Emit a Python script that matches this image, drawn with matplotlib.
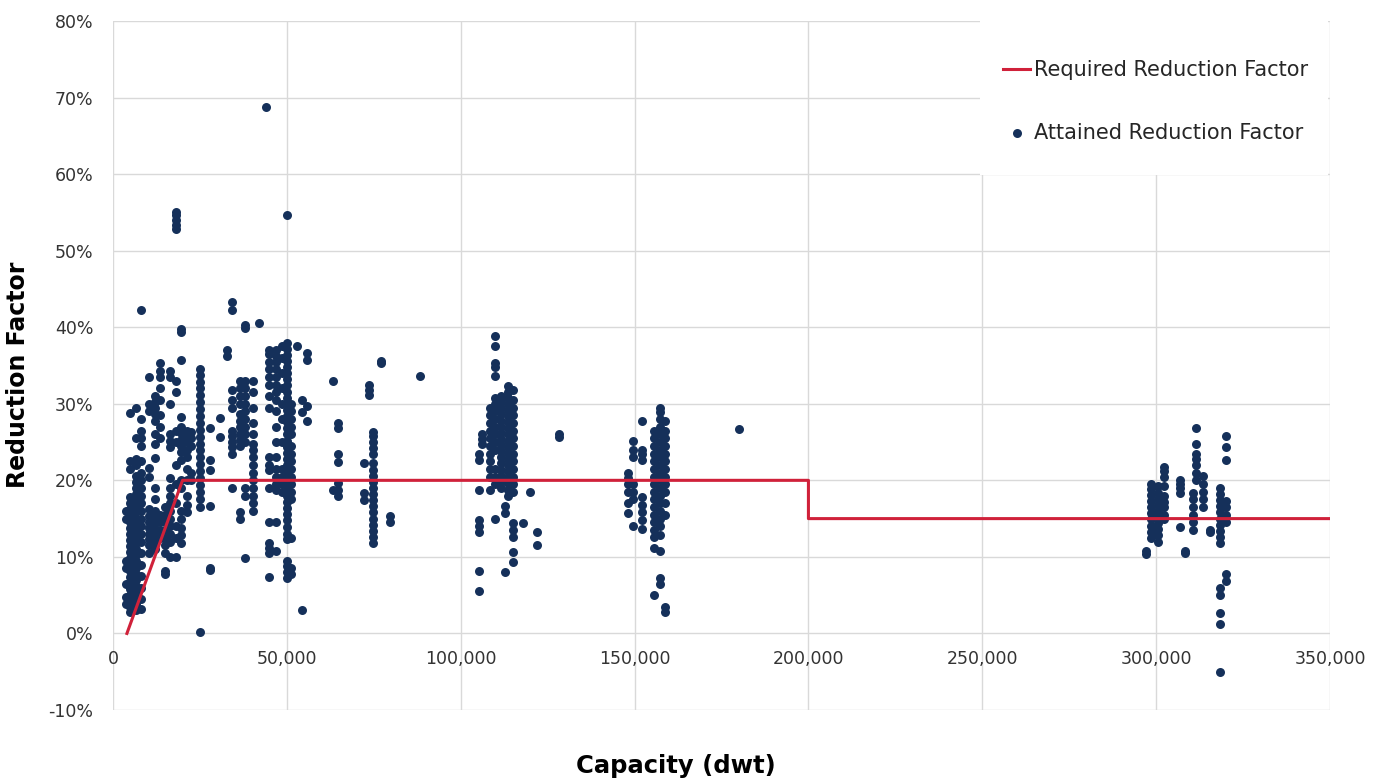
import matplotlib
matplotlib.use("Agg")
import matplotlib.pyplot as plt
from matplotlib.patches import Rectangle
from matplotlib.ticker import FuncFormatter, MultipleLocator
import numpy as np

RED = "#d0213a"
NAVY = "#15305a"
GRID = "#d9d9d9"
INK = "#333333"

# required reduction factor (dwt, fraction)
REQ_X = [4000, 20000, 200000, 200000, 350000]
REQ_Y = [0.0, 0.20, 0.20, 0.15, 0.15]

# attained reduction factor, read column by column: x in thousand dwt, y in %
C03_X = 3.8;   C03_Y = [3.9, 4.7, 6.5, 8.6, 9.5, 15.0, 16.0]
C05_X = 5.0;   C05_Y = [2.8, 3.5, 4.2, 5.0, 5.8, 6.6, 7.4, 8.2, 9.0, 9.8, 10.6, 11.4, 12.2, 13.0,
                        13.8, 14.6, 15.4, 16.2, 17.0, 17.8, 21.5, 22.5, 28.8]
C06_X = 6.5;   C06_Y = [3.0, 3.8, 4.6, 5.4, 6.2, 7.0, 7.8, 8.6, 9.4, 10.2, 11.0, 11.8, 12.6, 13.4,
                        14.2, 15.0, 15.8, 16.6, 17.4, 18.2, 19.0, 19.8, 20.6, 22.0, 22.8, 25.5, 29.5]
C08_X = 8.0;   C08_Y = [3.2, 4.5, 6.0, 7.5, 9.0, 10.5, 12.0, 13.0, 14.0, 15.0, 16.0, 17.0, 18.0,
                        19.0, 20.0, 21.0, 22.5, 24.5, 25.5, 26.5, 28.0, 42.2]
C10_X = 10.3;  C10_Y = [10.5, 11.5, 12.3, 13.0, 13.8, 14.6, 15.4, 16.2, 20.4, 21.6, 29.0, 30.0, 33.5]
C12_X = 12.2;  C12_Y = [11.0, 12.0, 12.8, 13.6, 14.4, 15.2, 16.0, 17.5, 19.0, 22.9, 24.8, 26.0,
                        27.8, 28.6, 29.4, 30.2, 31.0]
C13_X = 13.5;  C13_Y = [12.5, 13.5, 14.5, 15.5, 25.5, 27.0, 28.5, 30.5, 32.0, 33.5, 34.3, 35.3]
C15_X = 15.0;  C15_Y = [7.8, 8.2, 10.5, 11.5, 12.5, 13.5, 14.5, 15.5, 16.5]
C16_X = 16.5;  C16_Y = [10.0, 12.0, 13.0, 14.0, 15.0, 16.0, 17.0, 18.0, 19.0, 20.3, 24.3, 25.2,
                        26.0, 30.0, 33.5, 34.3]
C18_X = 18.0;  C18_Y = [10.0, 12.5, 14.0, 17.0, 19.5, 22.0, 25.0, 26.5, 31.5, 33.0, 52.8, 53.3,
                        54.0, 54.6, 55.0]
C19_X = 19.6;  C19_Y = [11.8, 12.8, 13.8, 15.0, 16.0, 19.0, 20.0, 22.6, 23.7, 24.5, 25.3, 26.2,
                        27.0, 28.3, 35.7, 39.4, 39.8]
C21_X = 21.3;  C21_Y = [15.8, 16.8, 18.0, 20.0, 21.5, 23.0, 24.0, 25.0, 25.8, 26.5]
C22_X = 22.5;  C22_Y = [20.0, 21.0, 24.5, 25.5, 26.3]
C25_X = 25.0;  C25_Y = [0.2, 16.5, 17.6, 18.5, 19.4, 20.3, 21.2, 22.1, 23.0, 23.9, 24.8, 25.7,
                        26.6, 27.5, 28.4, 29.3, 30.2, 31.1, 32.0, 32.9, 33.8, 34.6]
C28_X = 27.9;  C28_Y = [8.3, 8.6, 16.7, 21.3, 22.6, 26.8]
C31_X = 30.8;  C31_Y = [25.6, 28.2]
C33_X = 32.7;  C33_Y = [36.3, 37.0]
C34_X = 34.1;  C34_Y = [19.0, 23.5, 24.3, 25.0, 25.8, 26.5, 29.5, 30.5, 31.8, 42.2, 43.3]
C36_X = 36.5;  C36_Y = [15.0, 15.9, 24.5, 25.3, 26.0, 27.0, 27.8, 28.6, 30.0, 31.0, 32.0, 33.0]
C38_X = 38.0;  C38_Y = [9.9, 18.0, 19.0, 25.0, 26.0, 27.0, 28.0, 29.0, 30.0, 31.0, 32.0, 33.0,
                        39.9, 40.3]
C40_X = 40.2;  C40_Y = [16.0, 17.0, 18.0, 19.0, 20.0, 21.0, 22.0, 23.0, 24.0, 24.8, 26.0, 27.5,
                        29.5, 31.5, 33.0]
C42_X = 41.9;  C42_Y = [40.5]
C44_X = 43.9;  C44_Y = [68.8]
C45_X = 45.0;  C45_Y = [7.4, 10.5, 11.2, 11.8, 14.5, 19.0, 21.3, 22.0, 23.0, 29.5, 31.0, 32.5,
                        33.5, 34.5, 35.5, 36.5, 37.0]
C47_X = 47.0;  C47_Y = [10.8, 14.5, 18.7, 19.5, 20.5, 21.5, 23.0, 25.0, 27.0, 29.0, 30.5, 31.5,
                        32.5, 33.5, 34.5, 35.5, 36.3, 37.0]
C48_X = 48.6;  C48_Y = [18.5, 19.5, 20.5, 21.5, 25.0, 28.0, 30.0, 32.0, 34.0, 36.0, 37.5]
C50_X = 49.9;  C50_Y = [7.2, 8.0, 8.8, 9.5, 12.4, 13.0, 13.9, 14.8, 15.6, 16.4, 17.2, 18.0, 18.8,
                        19.6, 20.4, 21.2, 22.0, 22.8, 23.6, 24.4, 25.2, 26.0, 26.8, 27.6, 28.4,
                        29.2, 30.0, 30.8, 31.6, 32.4, 33.2, 34.0, 34.8, 35.6, 36.4, 37.2, 38.0,
                        54.6]
C51_X = 51.2;  C51_Y = [7.8, 8.5, 12.5, 17.5, 18.5, 19.5, 20.5, 21.5, 22.5, 23.5, 24.5, 26.0,
                        27.0, 28.0, 29.0, 30.0]
C53_X = 52.8;  C53_Y = [37.6]
C54_X = 54.3;  C54_Y = [3.0, 28.9, 30.5]
C55_X = 55.8;  C55_Y = [27.8, 29.7, 35.7, 36.6]
C63_X = 63.2;  C63_Y = [18.7, 33.0]
C64_X = 64.6;  C64_Y = [18.0, 18.8, 19.7, 22.4, 23.5, 26.8, 27.5]
C72_X = 72.2;  C72_Y = [17.4, 18.3, 22.2]
C73_X = 73.6;  C73_Y = [31.1, 31.8, 32.4]
C75_X = 74.8;  C75_Y = [11.8, 12.6, 13.4, 14.2, 15.0, 15.8, 16.6, 17.4, 18.2, 19.0, 19.8, 20.6,
                        21.4, 22.2, 23.4, 24.2, 25.0, 25.8, 26.3]
C77_X = 77.2;  C77_Y = [35.3, 35.6]
C80_X = 79.6;  C80_Y = [14.5, 15.4]
C88_X = 88.4;  C88_Y = [33.6]
C105_X = 105.2; C105_Y = [5.6, 8.2, 13.2, 14.0, 14.8, 18.8, 22.6, 23.5]
C106_X = 106.2; C106_Y = [24.8, 25.4, 26.1]
C108_X = 108.3; C108_Y = [18.8, 20.5, 21.5, 22.5, 23.5, 24.5, 25.5, 26.5, 27.5, 28.5, 29.5]
C110_X = 109.8; C110_Y = [15.0, 19.5, 20.5, 21.5, 24.0, 25.0, 26.0, 27.0, 28.0, 29.0, 30.0,
                          30.8, 33.6, 34.8, 35.3, 37.6, 38.8]
C111_X = 111.5; C111_Y = [19.0, 19.8, 20.6, 21.4, 22.2, 23.0, 23.8, 24.6, 25.4, 26.2, 27.0,
                          27.8, 28.6, 29.4, 30.2, 31.0]
C112_X = 112.7; C112_Y = [8.0, 15.7, 16.7]
C113_X = 113.5; C113_Y = [18.0, 18.8, 19.6, 20.4, 21.2, 22.0, 22.8, 23.6, 24.4, 25.2, 26.0,
                          26.8, 27.6, 28.4, 29.2, 30.0, 30.8, 31.6, 32.3]
C115_X = 115.0; C115_Y = [9.3, 10.6, 12.6, 13.5, 14.4, 18.5, 19.5, 20.5, 21.5, 22.5, 23.5,
                          24.5, 25.5, 26.5, 27.5, 28.5, 29.5, 30.5, 31.8]
C118_X = 117.8; C118_Y = [14.4]
C120_X = 119.8; C120_Y = [18.5]
C122_X = 121.8; C122_Y = [11.5, 13.2]
C128_X = 128.3; C128_Y = [25.7, 26.0]
C148_X = 148.0; C148_Y = [15.7, 17.0, 18.5, 19.5, 20.3, 20.9]
C150_X = 149.6; C150_Y = [14.1, 17.5, 18.5, 19.5, 23.0, 24.0, 25.2]
C152_X = 152.0; C152_Y = [13.6, 14.8, 15.8, 16.8, 17.8, 22.6, 23.4, 23.9, 27.8]
C156_X = 155.5; C156_Y = [5.0, 11.1, 12.6, 13.5, 14.5, 15.5, 16.5, 17.5, 18.5, 19.5, 20.5,
                          21.5, 22.5, 23.5, 24.5, 25.5, 26.5]
C157_X = 157.2; C157_Y = [6.5, 7.2, 10.8, 12.8, 14.0, 15.0, 16.0, 17.0, 18.0, 19.0, 20.0, 21.0,
                          22.0, 23.0, 24.0, 25.0, 26.0, 27.0, 28.0, 28.9, 29.4]
C159_X = 158.8; C159_Y = [2.8, 3.4, 15.5, 17.0, 18.5, 19.5, 20.5, 21.5, 22.5, 23.5, 24.5, 25.5,
                          26.5, 27.8]
C180_X = 179.9; C180_Y = [26.7]
C297_X = 297.1; C297_Y = [10.4, 10.8]
C298_X = 298.5; C298_Y = [12.5, 13.3, 14.1, 14.9, 15.7, 16.5, 17.3, 18.1, 18.9, 19.5]
C300_X = 300.5; C300_Y = [12.0, 12.8, 13.6, 14.4, 15.2, 16.0, 16.8, 17.6, 18.4, 19.2]
C302_X = 302.3; C302_Y = [15.0, 15.5, 16.5, 17.2, 18.0, 19.3, 20.4, 21.2, 21.8]
C307_X = 307.0; C307_Y = [13.9, 18.4, 19.0, 19.5, 20.0]
C308_X = 308.4; C308_Y = [10.5, 10.8]
C310_X = 310.5; C310_Y = [13.5, 14.5, 15.5, 16.5, 17.5, 18.3]
C312_X = 311.6; C312_Y = [20.0, 21.0, 22.0, 22.8, 23.5, 24.8, 26.8]
C313_X = 313.5; C313_Y = [16.5, 17.5, 18.5, 19.5, 20.6]
C315_X = 315.5; C315_Y = [13.2, 13.5]
C318_X = 318.5; C318_Y = [-5.0, 1.2, 2.7, 5.0, 6.0, 11.8, 12.6, 13.4, 14.2, 15.0, 15.8, 16.6,
                          17.4, 18.2, 19.0]
C320_X = 320.0; C320_Y = [6.9, 7.8, 14.5, 15.5, 16.5, 17.3, 22.6, 24.3, 25.8]

COLUMNS = [
    (C03_X, C03_Y), (C05_X, C05_Y), (C06_X, C06_Y), (C08_X, C08_Y), (C10_X, C10_Y),
    (C12_X, C12_Y), (C13_X, C13_Y), (C15_X, C15_Y), (C16_X, C16_Y), (C18_X, C18_Y),
    (C19_X, C19_Y), (C21_X, C21_Y), (C22_X, C22_Y), (C25_X, C25_Y), (C28_X, C28_Y),
    (C31_X, C31_Y), (C33_X, C33_Y), (C34_X, C34_Y), (C36_X, C36_Y), (C38_X, C38_Y),
    (C40_X, C40_Y), (C42_X, C42_Y), (C44_X, C44_Y), (C45_X, C45_Y), (C47_X, C47_Y),
    (C48_X, C48_Y), (C50_X, C50_Y), (C51_X, C51_Y), (C53_X, C53_Y), (C54_X, C54_Y),
    (C55_X, C55_Y), (C63_X, C63_Y), (C64_X, C64_Y), (C72_X, C72_Y), (C73_X, C73_Y),
    (C75_X, C75_Y), (C77_X, C77_Y), (C80_X, C80_Y), (C88_X, C88_Y),
    (C105_X, C105_Y), (C106_X, C106_Y), (C108_X, C108_Y), (C110_X, C110_Y),
    (C111_X, C111_Y), (C112_X, C112_Y), (C113_X, C113_Y), (C115_X, C115_Y),
    (C118_X, C118_Y), (C120_X, C120_Y), (C122_X, C122_Y), (C128_X, C128_Y),
    (C148_X, C148_Y), (C150_X, C150_Y), (C152_X, C152_Y), (C156_X, C156_Y),
    (C157_X, C157_Y), (C159_X, C159_Y), (C180_X, C180_Y),
    (C297_X, C297_Y), (C298_X, C298_Y), (C300_X, C300_Y), (C302_X, C302_Y),
    (C307_X, C307_Y), (C308_X, C308_Y), (C310_X, C310_Y), (C312_X, C312_Y),
    (C313_X, C313_Y), (C315_X, C315_Y), (C318_X, C318_Y), (C320_X, C320_Y),
]

att_x = np.concatenate([np.full(len(ys), x * 1000.0) for x, ys in COLUMNS])
att_y = np.concatenate([np.asarray(ys) / 100.0 for x, ys in COLUMNS])

plt.rcParams["font.family"] = ["DejaVu Sans"]

fig = plt.figure(figsize=(13.82, 7.81), dpi=100)
ax = fig.add_axes([113 / 1382, 1 - 710 / 781, 1217 / 1382, 689 / 781])
ax.set_xlim(0, 350000)
ax.set_ylim(-0.10, 0.80)
ax.xaxis.set_major_locator(MultipleLocator(50000))
ax.yaxis.set_major_locator(MultipleLocator(0.10))
ax.xaxis.set_major_formatter(FuncFormatter(lambda v, p: f"{v:,.0f}"))
ax.yaxis.set_major_formatter(FuncFormatter(lambda v, p: f"{v * 100:.0f}%"))
ax.grid(True, color=GRID, lw=1.0)
ax.set_axisbelow(True)
for s in ("top", "right", "left"):
    ax.spines[s].set_visible(False)
ax.spines["bottom"].set_position(("data", 0))
ax.spines["bottom"].set_visible(False)
ax.tick_params(axis="both", length=0, labelsize=12.5, colors=INK)
ax.tick_params(axis="x", pad=12)
ax.tick_params(axis="y", pad=14)

ax.scatter(att_x, att_y, s=42, color=NAVY, linewidths=0, zorder=3,
           label="Attained Reduction Factor")
ax.plot(REQ_X, REQ_Y, color=RED, lw=2.2, zorder=4, label="Required Reduction Factor")

# white legend panel, like the spreadsheet original
ax.add_patch(Rectangle((867 / 1217, 535 / 689), 348 / 1217, 154 / 689,
                       transform=ax.transAxes, facecolor="white", edgecolor="none",
                       zorder=2))
handles, labels = ax.get_legend_handles_labels()
leg = ax.legend(handles[::-1], labels[::-1], loc="upper left",
                bbox_to_anchor=(890 / 1217, 650 / 689), frameon=False,
                fontsize=15, handlelength=1.3, handletextpad=0.2,
                labelspacing=2.05, borderpad=0, borderaxespad=0)
for t in leg.get_texts():
    t.set_color("#262626")

fig.text(676 / 1382, 1 - 766 / 781, "Capacity (dwt)", ha="center", va="center",
         fontsize=17.5, fontweight="bold")
fig.text(18 / 1382, 1 - 375 / 781, "Reduction Factor", ha="center", va="center",
         rotation=90, fontsize=17, fontweight="bold")

fig.savefig("out.png", dpi=100)
